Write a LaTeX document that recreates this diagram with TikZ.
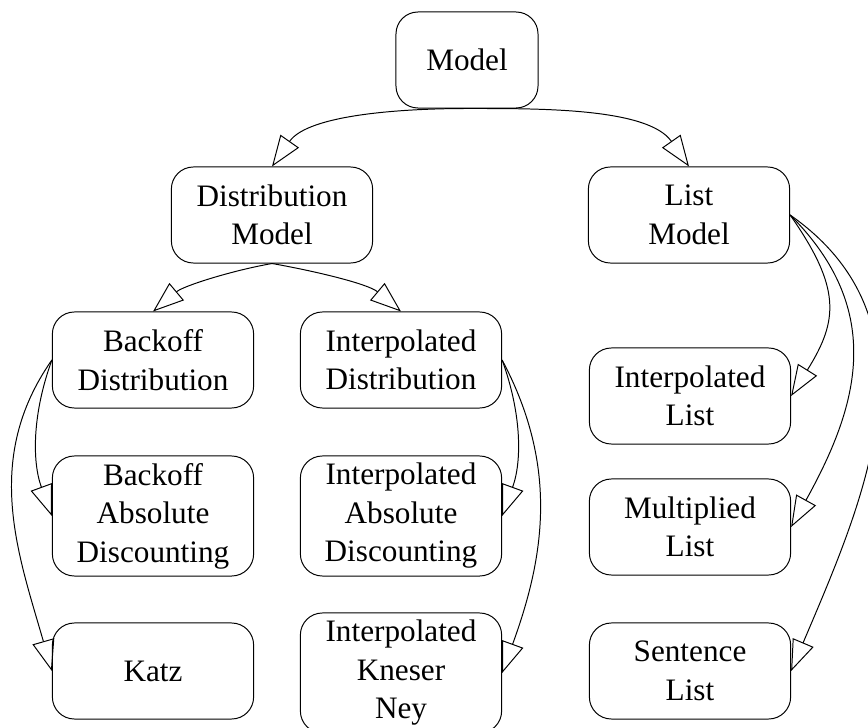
\documentclass[tikz,border=0pt]{standalone}
\usepackage{fontspec}
\setmainfont{Liberation Serif}
\usetikzlibrary{arrows.meta}

\begin{document}
\begin{tikzpicture}[x=0.025cm,y=0.025cm,
  box/.style={draw,rounded corners=0.55cm,align=center,minimum width=5.03cm,minimum height=2.4cm,inner sep=2pt,font=\fontsize{22.2}{27.4}\selectfont,line width=0.7pt},
  tallbox/.style={box,minimum height=3cm},
  isa/.style={-{Triangle[open,length=22pt,width=16pt]},line width=0.7pt}]
\useasboundingbox (0,0) rectangle (868,-728);

\node[box,minimum width=3.55cm] (model) at (467,-60) {Model};
\node[box] (distmodel) at (272,-215) {Distribution\\Model};
\node[box] (listmodel) at (689,-215) {List\\Model};

\node[box] (backoffdist) at (153,-360) {Backoff\\Distribution};
\node[box] (interpdist) at (401,-360) {Interpolated\\Distribution};
\node[tallbox] (backoffabs) at (153,-516) {Backoff\\Absolute\\Discounting};
\node[tallbox] (interpabs) at (401,-516) {Interpolated\\Absolute\\Discounting};
\node[box] (katz) at (153,-671) {Katz};
\node[tallbox] (kneserney) at (401,-673) {Interpolated\\Kneser\\Ney};

\node[box] (interplist) at (690,-396) {Interpolated\\List};
\node[box] (multlist) at (690,-527) {Multiplied\\List};
\node[box] (sentlist) at (690,-671) {Sentence\\List};

\draw[isa] (model.south) to[out=180,in=55,looseness=0.8] (distmodel.north);
\draw[isa] (model.south) to[out=0,in=125,looseness=0.8] (listmodel.north);

\draw[isa] (distmodel.south) to[out=190,in=40,looseness=0.8] (backoffdist.north);
\draw[isa] (distmodel.south) to[out=-10,in=140,looseness=0.8] (interpdist.north);

\draw[isa] (backoffdist.west) to[out=250,in=110,looseness=0.95] (backoffabs.west);
\draw[isa] (backoffdist.west) to[out=235,in=106] (katz.west);
\draw[isa] (interpdist.east) to[out=-70,in=70,looseness=0.95] (interpabs.east);
\draw[isa] (interpdist.east) to[out=-62,in=70] (kneserney.east);

\draw[isa] (listmodel.east) to[out=-55,in=58,looseness=1.26] (interplist.east);
\draw[isa] (listmodel.east) to[out=-45,in=61,looseness=1.12] (multlist.east);
\draw[isa] (listmodel.east) to[out=-35,in=67,looseness=1.05] (sentlist.east);
\end{tikzpicture}
\end{document}
